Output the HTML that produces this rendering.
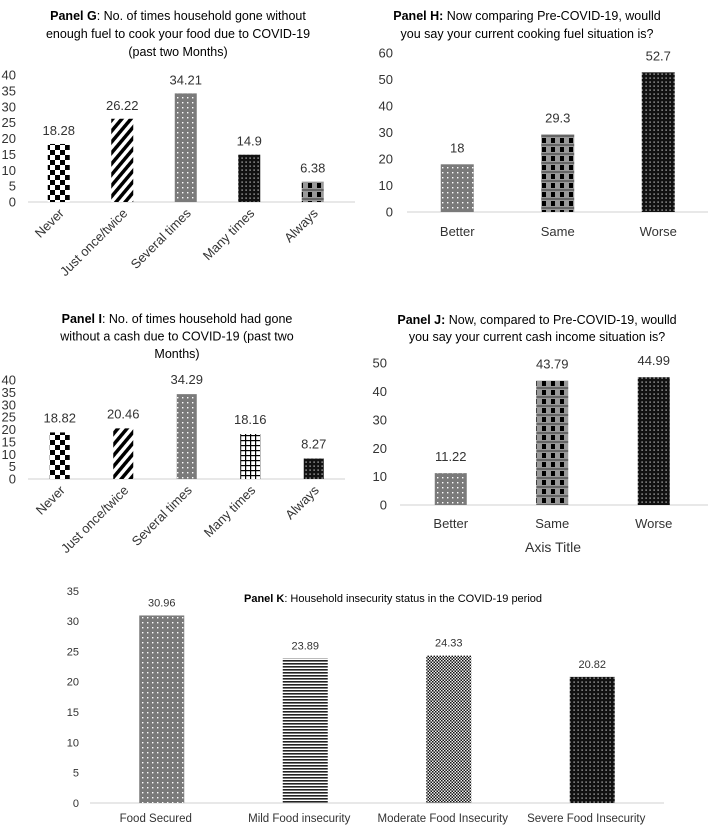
<!DOCTYPE html>
<html><head><meta charset="utf-8"><style>
html,body{margin:0;padding:0;background:#fff;}
svg{display:block;font-family:"Liberation Sans",sans-serif;}
</style></head><body>
<svg id="fig" width="709" height="826" viewBox="0 0 709 826" xmlns="http://www.w3.org/2000/svg">
<defs>
<pattern id="checker" width="10" height="10" patternUnits="userSpaceOnUse"><rect width="10" height="10" fill="#fff"/><rect width="5" height="5" fill="#000"/><rect x="5" y="5" width="5" height="5" fill="#000"/></pattern>
<pattern id="diag" width="7" height="7" patternUnits="userSpaceOnUse" patternTransform="rotate(40)"><rect width="7" height="7" fill="#fff"/><rect width="3.5" height="7" fill="#000"/></pattern>
<pattern id="greydots" width="5" height="5" patternUnits="userSpaceOnUse"><rect width="5" height="5" fill="#7a7a7a"/><rect x="2" y="2" width="1.4" height="1.4" fill="#fff"/></pattern>
<pattern id="darkdots" width="4" height="4" patternUnits="userSpaceOnUse"><rect width="4" height="4" fill="#111"/><rect x="1.5" y="1.5" width="1.2" height="1.2" fill="#ddd"/></pattern>
<pattern id="grid" width="5" height="5" patternUnits="userSpaceOnUse"><rect width="5" height="5" fill="#fff"/><rect width="1.2" height="5" fill="#000"/><rect width="5" height="1.2" fill="#000"/></pattern>
<pattern id="plaid" width="9" height="9" patternUnits="userSpaceOnUse"><rect width="9" height="9" fill="#999"/><rect x="2" y="3" width="4" height="5" fill="#000"/><rect x="0" y="0" width="9" height="2" fill="#666"/></pattern>
<pattern id="hlines" width="4" height="3" patternUnits="userSpaceOnUse"><rect width="4" height="3" fill="#fff"/><rect width="4" height="1.6" fill="#222"/></pattern>
<pattern id="finecheck" width="3" height="3" patternUnits="userSpaceOnUse"><rect width="3" height="3" fill="#eee"/><rect width="1.5" height="1.5" fill="#111"/><rect x="1.5" y="1.5" width="1.5" height="1.5" fill="#111"/></pattern>
</defs>
</svg>
<script>
// Panel G
const gCats = ["Never","Just once/twice","Several times","Many times","Always"];
const gVals = [18.28,26.22,34.21,14.9,6.38];
const gTicks = [0,5,10,15,20,25,30,35,40];
// Panel H
const hCats = ["Better","Same","Worse"];
const hVals = [18,29.3,52.7];
const hTicks = [0,10,20,30,40,50,60];
// Panel I
const iCats = ["Never","Just once/twice","Several times","Many times","Always"];
const iVals = [18.82,20.46,34.29,18.16,8.27];
const iTicks = [0,5,10,15,20,25,30,35,40];
// Panel J
const jCats = ["Better","Same","Worse"];
const jVals = [11.22,43.79,44.99];
const jTicks = [0,10,20,30,40,50];
// Panel K
const kCats = ["Food Secured","Mild Food insecurity","Moderate Food Insecurity","Severe Food Insecurity"];
const kVals = [30.96,23.89,24.33,20.82];
const kTicks = [0,5,10,15,20,25,30,35];

const NS="http://www.w3.org/2000/svg";
const svg=document.getElementById('fig');
function mk(tag,attrs,txt){const e=document.createElementNS(NS,tag);for(const k in attrs)e.setAttribute(k,attrs[k]);if(txt!==undefined)e.textContent=txt;svg.appendChild(e);return e;}

function panel(p){
  const y=v=>p.y0-(v/p.max)*(p.y0-p.yTop);
  const x=i=>p.x0+p.step*(i+0.5);
  const ax=mk('line',{x1:p.axL,x2:p.axR,y1:p.y0,y2:p.y0,stroke:'#d9d9d9','stroke-width':1.2});
  
  
  p.ticks.forEach(t=>{
    const e=mk('text',{x:p.tickX,y:y(t)+p.fs*0.35,'text-anchor':'end','font-size':p.fs,fill:'#333'},String(t));
    
    
  });
  p.vals.forEach((v,i)=>{
    const r=mk('rect',{x:x(i)-p.bw/2,y:y(v),width:p.bw,height:p.y0-y(v),fill:'url(#'+p.pats[i]+')'});
    
    
    const l=mk('text',{x:x(i),y:y(v)-p.lblGap,'text-anchor':'middle','font-size':p.fs,fill:'#333'},String(v));
    
    
  });
  p.cats.forEach((c,i)=>{
    let t;
    if(p.rot){
      const cx=x(i)+6, cy=p.y0+12;
      t=mk('text',{x:cx,y:cy,'text-anchor':'end','font-size':p.fs,fill:'#333',transform:'rotate(-45 '+cx+' '+cy+')'},c);
    } else {
      t=mk('text',{x:x(i)+(p.catDx||0),y:p.catY,'text-anchor':'middle','font-size':p.catFs||p.fs,fill:'#333'},c);
    }
    
    
  });
  p.title.forEach((ln,k)=>{
    const t=mk('text',{x:p.tx,y:p.ty+k*p.tlh,'text-anchor':p.tAnchor||'middle','font-size':p.tfs,fill:'#000'});
    if(p.tLen)t.setAttribute('textLength',p.tLen);
    if(ln[0]){const b=document.createElementNS(NS,'tspan');b.setAttribute('font-weight','bold');b.textContent=ln[0];t.appendChild(b);}
    t.appendChild(document.createTextNode(ln[1]));
    
    
  });
}

panel({id:'panel-g',cats:gCats,vals:gVals,ticks:gTicks,max:40,y0:202,yTop:75,x0:27,step:63.5,bw:22,axL:28,axR:355,tickX:16,fs:13,lblGap:9,rot:true,
  pats:['checker','diag','greydots','darkdots','plaid'],
  title:[['Panel G',': No. of times household gone without'],['','enough fuel to cook your food due to COVID-19'],['','(past two Months)']],tx:178,ty:20,tlh:18,tfs:12.5});
panel({id:'panel-h',cats:hCats,vals:hVals,ticks:hTicks,max:60,y0:212,yTop:53,x0:407,step:100.5,bw:33,axL:407,axR:708,tickX:393,fs:13,lblGap:12,catY:236,
  pats:['greydots','plaid','darkdots'],
  title:[['Panel H:',' Now comparing Pre-COVID-19,  woulld'],['','you say your current cooking fuel situation is?']],tx:527,ty:20,tlh:18,tfs:12.5});
panel({id:'panel-i',cats:iCats,vals:iVals,ticks:iTicks,max:40,y0:479,yTop:380,x0:28,step:63.5,bw:20,axL:28,axR:345,tickX:16,fs:13,lblGap:10,rot:true,
  pats:['checker','diag','greydots','grid','darkdots'],
  title:[['Panel I',': No. of times household had  gone'],['','without a cash due to COVID-19 (past two'],['','Months)']],tx:177,ty:323,tlh:17.5,tfs:12.5});
panel({id:'panel-j',cats:jCats,vals:jVals,ticks:jTicks,max:50,y0:505,yTop:363,x0:400,step:101.5,bw:32,axL:400,axR:708,tickX:387,fs:13,lblGap:12,catY:528,
  pats:['greydots','plaid','darkdots'],
  title:[['Panel J:',' Now, compared to Pre-COVID-19,  woulld'],['','you say your current cash income situation is?']],tx:537,ty:324,tlh:17,tfs:12.5});
panel({id:'panel-k',cats:kCats,vals:kVals,ticks:kTicks,max:35,y0:803,yTop:591,x0:90,step:143.5,bw:45,axL:90,axR:664,tickX:79,fs:11,lblGap:9,catY:822,catFs:11.5,catDx:-6,
  pats:['greydots','hlines','finecheck','darkdots'],
  title:[['Panel K',': Household insecurity status in  the  COVID-19 period']],tx:244,ty:602,tlh:0,tfs:11,tAnchor:'start',tLen:298});

const at=mk('text',{x:553,y:552,'text-anchor':'middle','font-size':14,fill:'#333'},'Axis Title');


</script>
</body></html>
